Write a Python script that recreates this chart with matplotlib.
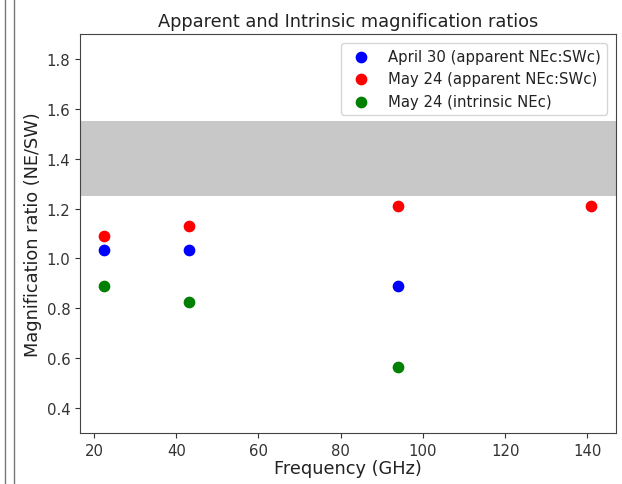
import matplotlib
matplotlib.use("Agg")
import matplotlib.pyplot as plt
from matplotlib.lines import Line2D

freq_apr = [22.5, 43.2, 94.0]
ratio_apr = [1.033, 1.033, 0.889]
freq_may = [22.5, 43.2, 94.0, 141.0]
ratio_may = [1.09, 1.129, 1.212, 1.212]
freq_int = [22.5, 43.2, 94.0]
ratio_int = [0.889, 0.824, 0.564]
band = (1.25, 1.55)

fig = plt.figure(figsize=(6.22, 4.85), dpi=100)
ax = fig.add_axes([0.1286, 0.1052, 0.8614, 0.8226])

ax.axhspan(band[0], band[1], color='#c8c8c8', lw=0, zorder=0)
ax.scatter(freq_apr, ratio_apr, s=55, color='blue', label='April 30 (apparent NEc:SWc)', zorder=3)
ax.scatter(freq_may, ratio_may, s=55, color='red', label='May 24 (apparent NEc:SWc)', zorder=3)
ax.scatter(freq_int, ratio_int, s=55, color='green', label='May 24 (intrinsic NEc)', zorder=3)

ax.set_ylim(0.3, 1.9)
ax.set_yticks([0.4, 0.6, 0.8, 1.0, 1.2, 1.4, 1.6, 1.8])
ax.set_xticks([20, 40, 60, 80, 100, 120, 140])
ax.tick_params(labelsize=10.7, colors='#333333')
for s in ax.spines.values():
    s.set_color('#444444')
ax.set_title('Apparent and Intrinsic magnification ratios', fontsize=12.8, color='#222222')
ax.set_xlabel('Frequency (GHz)', fontsize=12.8, color='#222222', labelpad=1)
ax.set_ylabel('Magnification ratio (NE/SW)', fontsize=12.8, color='#222222', labelpad=3)
ax.legend(loc='upper right', fontsize=10.7, labelcolor='#222222', borderaxespad=0.6)

for xf in (5 / 622, 14 / 622):
    fig.add_artist(Line2D([xf, xf], [0.0, 1.0], transform=fig.transFigure, color='#777777', lw=1))

fig.savefig('out.png', dpi=100)
